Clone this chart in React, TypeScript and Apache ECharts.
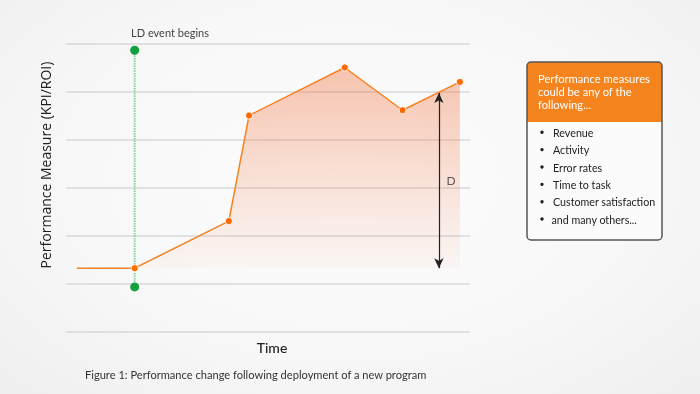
import React, { useEffect, useRef } from "react";
import * as echarts from "echarts";

// ---- data ----
const timePoints = [2.7, 17, 40.3, 45.3, 69, 83.3, 97.5];
const performance = [1.33, 1.33, 2.31, 4.51, 5.51, 4.62, 5.21];
const baseline = 1.33;
const eventTime = 17;
const eventRange = [0.94, 5.87];
const deltaTime = 92.3;
const deltaTop = 4.98;
const deltaLabelPos = [95.3, 3.15];
const yMin = 0;
const yMax = 6;
const measures = [
  "Revenue",
  "Activity",
  "Error rates",
  "Time to task",
  "Customer satisfaction",
  "and many others...",
];
const headerLines = ["Performance measures", "could be any of the", "following..."];
const eventLabel = "LD event begins";
const yTitle = "Performance Measure (KPI/ROI)";
const xTitle = "Time";
const caption = "Figure 1: Performance change following deployment of a new program";

const FONT = "Lato, 'Noto Sans', sans-serif";

export default function App() {
  const ref = useRef<HTMLDivElement>(null);
  useEffect(() => {
    if (!ref.current) return;
    const chart = echarts.init(ref.current, undefined, { renderer: "svg" });
    const linePts = timePoints.map((t, i) =>
      i === 0 ? { value: [t, performance[i]], symbol: "none" } : { value: [t, performance[i]] }
    );
    const boxX = 527,
      boxY = 62,
      boxW = 135,
      boxH = 178,
      headH = 60;
    const graphics: any[] = [
      {
        type: "text",
        x: 170,
        y: 32,
        style: { text: eventLabel, font: `11px ${FONT}`, fill: "#444", align: "center", verticalAlign: "middle" },
      },
      {
        type: "text",
        x: 45,
        y: 165,
        rotation: Math.PI / 2,
        style: { text: yTitle, font: `14px 'Open Sans', sans-serif`, fill: "#222", align: "center", verticalAlign: "middle" },
      },
      {
        type: "text",
        x: 272,
        y: 347,
        style: { text: xTitle, font: `500 14px ${FONT}`, fill: "#222", align: "center", verticalAlign: "middle" },
      },
      {
        type: "text",
        x: 85,
        y: 374,
        style: { text: caption, font: `11.1px ${FONT}`, fill: "#333", align: "left", verticalAlign: "middle" },
      },
      {
        type: "rect",
        shape: { x: boxX, y: boxY, width: boxW, height: boxH, r: 4 },
        style: { fill: "#fbfbfb", stroke: null },
      },
      {
        type: "rect",
        shape: { x: boxX, y: boxY, width: boxW, height: headH, r: [4, 4, 0, 0] },
        style: { fill: "#f5841f" },
      },
      {
        type: "rect",
        shape: { x: boxX, y: boxY, width: boxW, height: boxH, r: 4 },
        style: { fill: "none", stroke: "#555", lineWidth: 1.5 },
      },
      ...headerLines.map((t, i) => ({
        type: "text",
        x: 538,
        y: 78 + i * 13.2,
        style: { text: t, font: `11.2px ${FONT}`, fill: "#fff", align: "left", verticalAlign: "middle" },
      })),
      ...measures.map((t, i) => ({
        type: "group",
        children: [
          {
            type: "circle",
            shape: { cx: 542, cy: 132.3 + i * 17.35, r: 1.7 },
            style: { fill: "#222" },
          },
          {
            type: "text",
            x: i === measures.length - 1 ? 551.5 : 553,
            y: 132.3 + i * 17.35,
            style: { text: t, font: `10.7px ${FONT}`, fill: "#222", align: "left", verticalAlign: "middle" },
          },
        ],
      })),
    ];

    chart.setOption({
      animation: false,
      backgroundColor: "transparent",
      grid: { left: 66, top: 44, width: 404, height: 288 },
      xAxis: {
        type: "value",
        min: 0,
        max: 100,
        show: false,
      },
      yAxis: {
        type: "value",
        min: yMin,
        max: yMax,
        interval: 1,
        axisLine: { show: false },
        axisTick: { show: false },
        axisLabel: { show: false },
        splitLine: { show: true, lineStyle: { color: "#d8d8d8", width: 1.5 } },
      },
      series: [
        {
          type: "line",
          data: [
            [eventTime, eventRange[0]],
            [eventTime, eventRange[1]],
          ],
          symbol: "circle",
          symbolSize: 9,
          itemStyle: { color: "#14a03e" },
          lineStyle: { color: "#86d49b", width: 2, type: [1.5, 1] },
          z: 3,
        },
        {
          type: "line",
          data: linePts,
          symbol: "circle",
          symbolSize: 7,
          itemStyle: { color: "#ff6a00", borderColor: "#fff", borderWidth: 0.8 },
          lineStyle: { color: "#f5821f", width: 1.5 },
          areaStyle: {
            origin: baseline,
            color: new echarts.graphic.LinearGradient(0, 0, 0, 1, [
              { offset: 0, color: "rgba(240,110,55,0.55)" },
              { offset: 1, color: "rgba(240,110,55,0.04)" },
            ]),
          },
          z: 4,
        },
        {
          type: "line",
          data: [],
          markLine: {
            silent: true,
            symbol: ["arrow", "arrow"],
            symbolSize: [7, 10],
            label: { show: false },
            lineStyle: { color: "#222", width: 1.2, type: "solid" },
            data: [
              [
                { coord: [deltaTime, baseline] },
                { coord: [deltaTime, deltaTop] },
              ],
            ],
          },
          z: 5,
        },
        {
          type: "scatter",
          data: [deltaLabelPos],
          symbolSize: 0,
          label: {
            show: true,
            position: "inside",
            formatter: "D",
            color: "#333",
            fontSize: 12,
            fontFamily: FONT,
          },
          z: 5,
        },
      ],
      graphic: graphics,
    });
    return () => chart.dispose();
  }, []);
  return (
    <div
      style={{
        position: "fixed",
        left: 0,
        top: 0,
        width: 700,
        height: 394,
        background: "radial-gradient(ellipse at 50% 45%, #fcfcfc 0%, #f8f8f8 55%, #efefef 100%)",
      }}
    >
      <div ref={ref} style={{ width: 700, height: 394 }} />
    </div>
  );
}
